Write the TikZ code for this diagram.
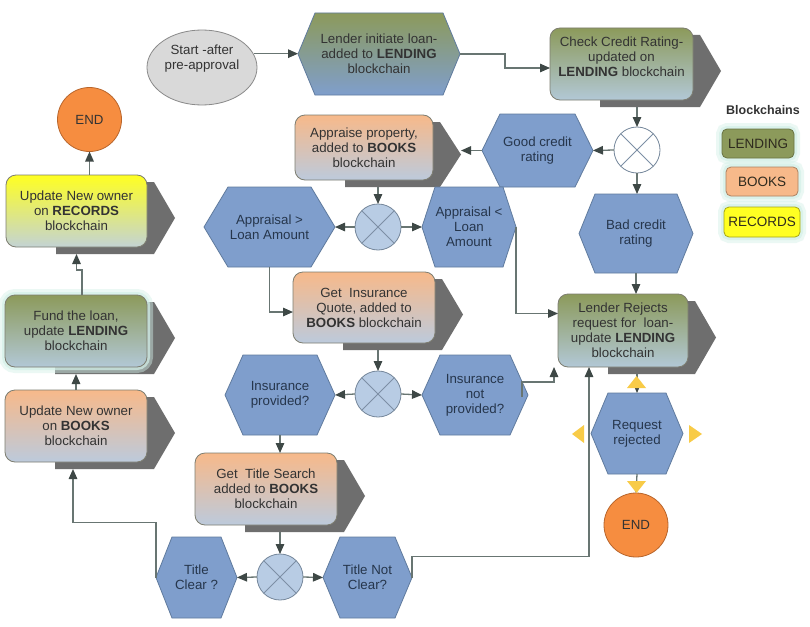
\documentclass[tikz,border=0pt]{standalone}
\usepackage{fontspec}
\setmainfont{Liberation Sans}
\usetikzlibrary{arrows.meta,calc,shapes.geometric}
\pgfdeclarelayer{shadowl}
\pgfdeclarelayer{bgl}
\pgfsetlayers{shadowl,bgl,main}
\definecolor{olivec}{HTML}{8C9A5B}
\definecolor{lendbot}{HTML}{B2C8D6}
\definecolor{peachc}{HTML}{F7B98A}
\definecolor{bookbot}{HTML}{BCCADC}
\definecolor{yellowc}{HTML}{FFFF22}
\definecolor{recbot}{HTML}{C3D3D4}
\definecolor{hexblue}{HTML}{7F9ECC}
\definecolor{hexborder}{HTML}{607B9E}
\definecolor{boxborder}{HTML}{7D7D70}
\definecolor{xorfill}{HTML}{B8CCE4}
\definecolor{xorborder}{HTML}{75879B}
\definecolor{xorline}{HTML}{7D8FA5}
\definecolor{orangec}{HTML}{F68D40}
\definecolor{orangeb}{HTML}{B8652B}
\definecolor{shadowc}{HTML}{6E6E6E}
\definecolor{linec}{HTML}{687572}
\definecolor{headc}{HTML}{3E4846}
\definecolor{textc}{HTML}{333333}
\definecolor{hextext}{HTML}{26364C}
\definecolor{glowc}{HTML}{D3F0E8}
\definecolor{startf}{HTML}{D9D9D9}
\definecolor{startb}{HTML}{8A8A8A}
\definecolor{goldc}{HTML}{F8CB47}
\definecolor{legtext}{HTML}{2E2A1E}

\newcommand{\hexa}[3]{%
  \begin{pgfonlayer}{bgl}
  \path[#3] (#1.west) -- ($(#1.north west)+(#2,0)$) -- ($(#1.north east)+(-#2,0)$)
    -- (#1.east) -- ($(#1.south east)+(-#2,0)$) -- ($(#1.south west)+(#2,0)$) -- cycle;
  \end{pgfonlayer}}
\newcommand{\boxshadow}[1]{%
  \begin{pgfonlayer}{shadowl}
  \fill[shadowc] ($(#1.north east)+(7,7)$) -- ($(#1.east)+(28,7)$) -- ($(#1.south east)+(7,7)$)
    -- ($(#1.south west)+(50,7)$) -- ($(#1.north west)+(50,7)$) -- cycle;
  \end{pgfonlayer}
  \coordinate (#1-tip) at ($(#1.east)+(28,7)$);}
\newcommand{\glowring}[2]{%
  \begin{pgfonlayer}{shadowl}
  \draw[glowc, line width=12pt, draw opacity=0.45, rounded corners=#2] (#1.north west) rectangle (#1.south east);
  \draw[glowc, line width=6pt, draw opacity=0.7, rounded corners=#2] (#1.north west) rectangle (#1.south east);
  \end{pgfonlayer}}

\tikzset{
  txt/.style={font=\fontsize{13.3}{15}\selectfont, align=center, text=textc},
  hexnode/.style={txt, text=hextext, rectangle, inner sep=0pt, outer sep=0pt},
  hexfill/.style={fill=hexblue, draw=hexborder, line width=0.8pt},
  box/.style={txt, rectangle, rounded corners=10pt, draw=boxborder, line width=0.8pt,
              inner sep=0pt, outer sep=0pt},
  lendbox/.style={box, top color=olivec, bottom color=lendbot},
  bookbox/.style={box, top color=peachc, bottom color=bookbot},
  recbox/.style={box, top color=yellowc, bottom color=recbot},
  xor/.style={circle, draw=xorborder, line width=0.8pt, minimum size=46pt, inner sep=0pt,
              outer sep=0pt, fill=xorfill,
              path picture={\draw[xorline, line width=0.8pt]
                ($(path picture bounding box.center)+(-16,-16)$) -- ($(path picture bounding box.center)+(16,16)$)
                ($(path picture bounding box.center)+(-16,16)$) -- ($(path picture bounding box.center)+(16,-16)$);}},
  endc/.style={circle, fill=orangec, draw=orangeb, line width=0.8pt, minimum size=64pt,
               inner sep=0pt, outer sep=0pt, txt, text=textc},
  arr/.style={draw=linec, line width=1.3pt, -{Triangle[length=10pt,width=8.5pt,color=headc]}},
  legbox/.style={rectangle, rounded corners=5pt, line width=0.8pt, inner sep=0pt, outer sep=0pt,
                 font=\fontsize{13.5}{15}\selectfont, text=legtext},
  ytri/.style={fill=goldc}
}

\begin{document}
\begin{tikzpicture}[x=1pt,y=-1pt]
\begin{pgfonlayer}{shadowl}
\fill[white] (0,0) rectangle (810,626);
\end{pgfonlayer}
\useasboundingbox (0,0) rectangle (810,626);

% start
\node[ellipse, draw=startb, fill=startf, line width=0.8pt, minimum width=110pt, minimum height=75pt,
      inner sep=0pt] (start) at (202,67.5) {};
\node[txt] (starttext) at (202,59) {Start -after\\pre-approval};

% hexagons
\node[hexnode, text=textc, minimum width=162pt, minimum height=82pt] (lender) at (379,54)
  {Lender initiate loan-\\added to \textbf{LENDING}\\blockchain};
\hexa{lender}{17}{top color=olivec, bottom color=hexblue, draw=hexborder, line width=0.8pt}

\node[hexnode, minimum width=111pt, minimum height=73pt] (good) at (537.5,150.5) {Good credit\\rating};
\hexa{good}{18}{hexfill}
\node[hexnode, minimum width=114pt, minimum height=79pt] (bad) at (636,233.5) {Bad credit\\rating};
\hexa{bad}{16}{hexfill}
\node[hexnode, minimum width=131pt, minimum height=80pt] (apprGT) at (269.5,227) {Appraisal >\\Loan Amount};
\hexa{apprGT}{24}{hexfill}
\node[hexnode, minimum width=94pt, minimum height=80pt] (apprLT) at (469,227) {Appraisal <\\Loan\\Amount};
\hexa{apprLT}{13}{hexfill}
\node[hexnode, minimum width=110pt, minimum height=80pt] (insprov) at (280,395) {Insurance\\provided?};
\hexa{insprov}{18}{hexfill}
\node[hexnode, minimum width=106pt, minimum height=80pt] (insnot) at (475,395) {Insurance\\not\\provided?};
\hexa{insnot}{18}{hexfill}
\node[hexnode, minimum width=81pt, minimum height=81pt] (tclear) at (196.5,577.5) {Title\\Clear ?};
\hexa{tclear}{16}{hexfill}
\node[hexnode, minimum width=89pt, minimum height=81pt] (tnot) at (367.5,577.5) {Title Not\\Clear?};
\hexa{tnot}{17}{hexfill}
\node[hexnode, minimum width=92pt, minimum height=81pt] (reqrej) at (637,433.5) {Request\\rejected};
\hexa{reqrej}{17}{hexfill}

% boxes
\node[lendbox, minimum width=143pt, minimum height=72pt] (check) at (621.5,64) {};
\node[txt] (checktext) at (621.5,57) {Check Credit Rating-\\updated on\\\textbf{LENDING} blockchain};
\boxshadow{check}
\node[bookbox, minimum width=138pt, minimum height=65pt] (appraise) at (364,147.5)
  {Appraise property,\\added to \textbf{BOOKS}\\blockchain};
\boxshadow{appraise}
\node[bookbox, minimum width=142pt, minimum height=71pt] (insq) at (364,307.5)
  {Get~ Insurance\\Quote, added to\\\textbf{BOOKS} blockchain};
\boxshadow{insq}
\node[bookbox, minimum width=142pt, minimum height=72pt] (titles) at (266,489)
  {Get~ Title Search\\added to \textbf{BOOKS}\\blockchain};
\boxshadow{titles}
\node[lendbox, minimum width=130pt, minimum height=73pt] (rejects) at (623,330.5)
  {Lender Rejects\\request for~ loan-\\update \textbf{LENDING}\\blockchain};
\boxshadow{rejects}
\node[recbox, minimum width=141pt, minimum height=72pt] (records) at (76.5,211)
  {Update New owner\\on \textbf{RECORDS}\\blockchain};
\boxshadow{records}
\node[lendbox, minimum width=142pt, minimum height=72pt] (fund) at (76,331)
  {Fund the loan,\\update \textbf{LENDING}\\blockchain};
\boxshadow{fund}
\glowring{fund}{10pt}
\node[bookbox, minimum width=142pt, minimum height=72pt] (bksupd) at (76,426)
  {Update New owner\\on \textbf{BOOKS}\\blockchain};
\boxshadow{bksupd}

% xor gates
\node[xor, fill=white] (xor1) at (637,150) {};
\node[xor] (xor2) at (378,227) {};
\node[xor] (xor3) at (378,394) {};
\node[xor] (xor4) at (280,577) {};

% end events
\node[endc] (endL) at (89.5,119.5) {END};
\node[endc] (endR) at (636,525) {END};
\glowring{endL}{32pt}
\glowring{endR}{32pt}

% legend
\node[font=\bfseries\fontsize{12.5}{14}\selectfont, text=textc] (legtitle) at (763,110) {Blockchains};
\node[legbox, fill=olivec, draw=olivec!75!black, minimum width=72pt, minimum height=29pt] (legL) at (758,143.5) {LENDING};
\node[legbox, fill=peachc, draw=peachc!70!black, minimum width=72pt, minimum height=29pt] (legB) at (762,181.5) {BOOKS};
\node[legbox, fill=yellowc, draw=yellowc!65!black, minimum width=76pt, minimum height=30pt] (legR) at (762,222) {RECORDS};
\glowring{legL}{5pt}
\glowring{legB}{5pt}
\glowring{legR}{5pt}

% connectors
\draw[arr] (start.15) -- (start.15 -| lender.west);
\draw[arr] (lender.east) -- ($(lender.east)!0.5!(lender.east -| check.west)$) |- ($(check.west)+(0,4)$);
\draw[arr] ($(check.south -| xor1)+(0,7)$) -- (xor1.north);
\draw[arr] (xor1.west) -- (good.east);
\draw[arr] (xor1.south) -- (xor1.south |- bad.north);
\draw[arr] (bad.south) -- (bad.south |- rejects.north);
\draw[arr] (good.west) -- (good.west -| appraise-tip);
\draw[arr] ($(appraise.south -| xor2)+(0,7)$) -- (xor2.north);
\draw[arr] (xor2.west) -- (apprGT.east);
\draw[arr] (xor2.east) -- (apprLT.west);
\draw[arr] (apprGT.south) |- ($(insq.west)+(0,4.5)$);
\draw[arr] (apprLT.east) |- ($(rejects.west)+(0,-17)$);
\draw[arr] ($(insq.south -| xor3)+(0,7)$) -- (xor3.north);
\draw[arr] (xor3.west) -- (insprov.east);
\draw[arr] (xor3.east) -- (insnot.west);
\draw[arr] ($(insnot.east)+(-6,2)$) -- ++(0,-15) -| ($(rejects.south west)+(-4,0)$);
\draw[arr] (insprov.south) -- (insprov.south |- titles.north);
\draw[arr] ($(titles.south -| xor4)+(0,7)$) -- (xor4.north);
\draw[arr] (xor4.west) -- (tclear.east);
\draw[arr] (xor4.east) -- (tnot.west);
\draw[arr] (tnot.east) -- ++(0,-21) -| ($(rejects.south west)+(31,0)$);
\draw[arr] (tclear.west) -- ++(0,-55) -| ($(bksupd.south)+(-3,7)$);
\draw[arr] (bksupd.north) -- ($(fund.south)+(0,7)$);
\draw[arr] ($(fund.north)+(6,0)$) -- ++(0,-25) -| ($(records.south)+(0,7)$);
\draw[arr] (records.north -| endL.south) -- (endL.south);
\draw[arr] ($(rejects.south -| reqrej.north)+(0,7)$) -- (reqrej.north);
\draw[arr] (reqrej.south) -- (endR.north);

% yellow handles
\fill[ytri] (627,388) -- (646,388) -- (636.5,376) -- cycle;
\fill[ytri] (627,481) -- (646,481) -- (636.5,493) -- cycle;
\fill[ytri] (584,425) -- (584,443) -- (572,434) -- cycle;
\fill[ytri] (689,425) -- (689,443) -- (702,434) -- cycle;
\end{tikzpicture}
\end{document}
